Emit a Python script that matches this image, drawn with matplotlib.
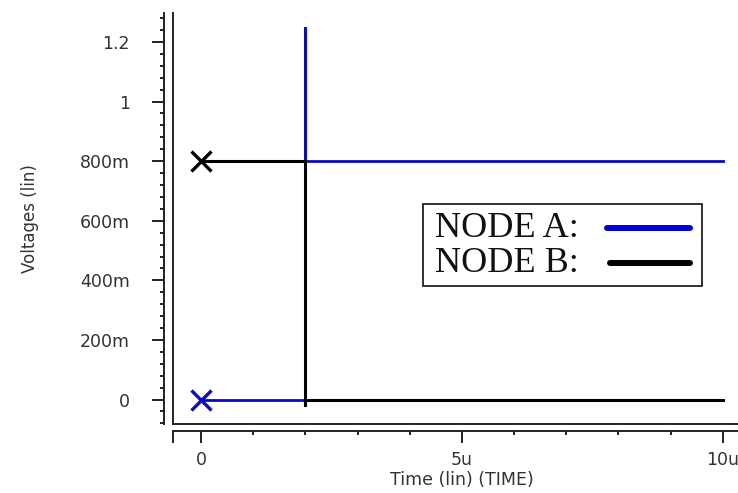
import matplotlib.pyplot as plt
import matplotlib.lines as mlines
import matplotlib.patches as mpatches
from matplotlib.ticker import MultipleLocator

# transient data, time in microseconds
time_us = [0, 2, 2, 2, 10]
node_a = [0, 0, 1.25, 0.8, 0.8]
node_b = [0.8, 0.8, -0.02, 0, 0]

ytick_vals = [0, 0.2, 0.4, 0.6, 0.8, 1.0, 1.2]
ytick_labels = ["0", "200m", "400m", "600m", "800m", "1", "1.2"]
xtick_vals = [0, 5, 10]
xtick_labels = ["0", "5u", "10u"]

blue = "#0a0ac4"
black = "#000000"
grey = "#222222"

fig = plt.figure(figsize=(7.38, 4.93), dpi=100)
ax = fig.add_axes([173 / 738, 69 / 493, 565 / 738, 411 / 493])

ax.plot(time_us, node_a, color=blue, lw=2.0, marker="x", markevery=[0],
        ms=14, mew=2.4, solid_joinstyle="miter")
ax.plot(time_us, node_b, color=black, lw=2.2, marker="x", markevery=[0],
        ms=14, mew=2.4, solid_joinstyle="miter")

xmin = -0.536
ax.set_xlim(xmin, 10.29)
ax.set_ylim(-0.082, 1.297)

# axis spines pushed out, plot frame drawn separately
for side in ["top", "right"]:
    ax.spines[side].set_visible(False)
ax.spines["left"].set_position(("outward", 6.5))
ax.spines["bottom"].set_position(("outward", 5))
for side in ["left", "bottom"]:
    ax.spines[side].set_linewidth(1.4)
    ax.spines[side].set_color(grey)
ax.plot([0, 0], [0, 1], transform=ax.transAxes, clip_on=False, color=grey, lw=1.4)
ax.plot([0, 1], [0, 0], transform=ax.transAxes, clip_on=False, color=grey, lw=1.4)

ax.set_yticks(ytick_vals)
ax.set_yticklabels(ytick_labels)
ax.yaxis.set_minor_locator(MultipleLocator(0.04))
ax.set_xticks([xmin] + xtick_vals)
ax.set_xticklabels([""] + xtick_labels)
ax.set_xticks(list(range(0, 11)), minor=True)

ax.tick_params(which="major", length=8.6, width=1.4, color=grey,
               labelsize=12.5, labelcolor="#333333")
ax.tick_params(which="minor", length=2.9, width=1.4, color=grey)
ax.tick_params(axis="y", which="major", pad=16)
ax.tick_params(axis="x", which="major", pad=5.5)

ax.set_ylabel("Voltages (lin)", fontsize=12, color="#333333")
ax.set_xlabel("Time (lin) (TIME)", fontsize=12.5, color="#333333")
ax.yaxis.set_label_coords(-0.237, 0.5)
ax.xaxis.set_label_coords(0.5115, -0.114)

# legend box with the label before the line sample
fig.add_artist(mpatches.Rectangle((0.573, 0.420), 0.378, 0.166,
                                  transform=fig.transFigure, fill=True,
                                  facecolor="white", edgecolor=grey, lw=1.3))
fig.text(0.589, 0.519, "NODE A:", family="Liberation Serif", fontsize=26,
         va="baseline", color="#111111")
fig.text(0.589, 0.448, "NODE B:", family="Liberation Serif", fontsize=26,
         va="baseline", color="#111111")
fig.add_artist(mlines.Line2D([0.822, 0.935], [0.538, 0.538], transform=fig.transFigure,
                             color="#0000dc", lw=4.3, solid_capstyle="round"))
fig.add_artist(mlines.Line2D([0.826, 0.935], [0.467, 0.467], transform=fig.transFigure,
                             color=black, lw=4.3, solid_capstyle="round"))

fig.savefig("out.png", dpi=100)
